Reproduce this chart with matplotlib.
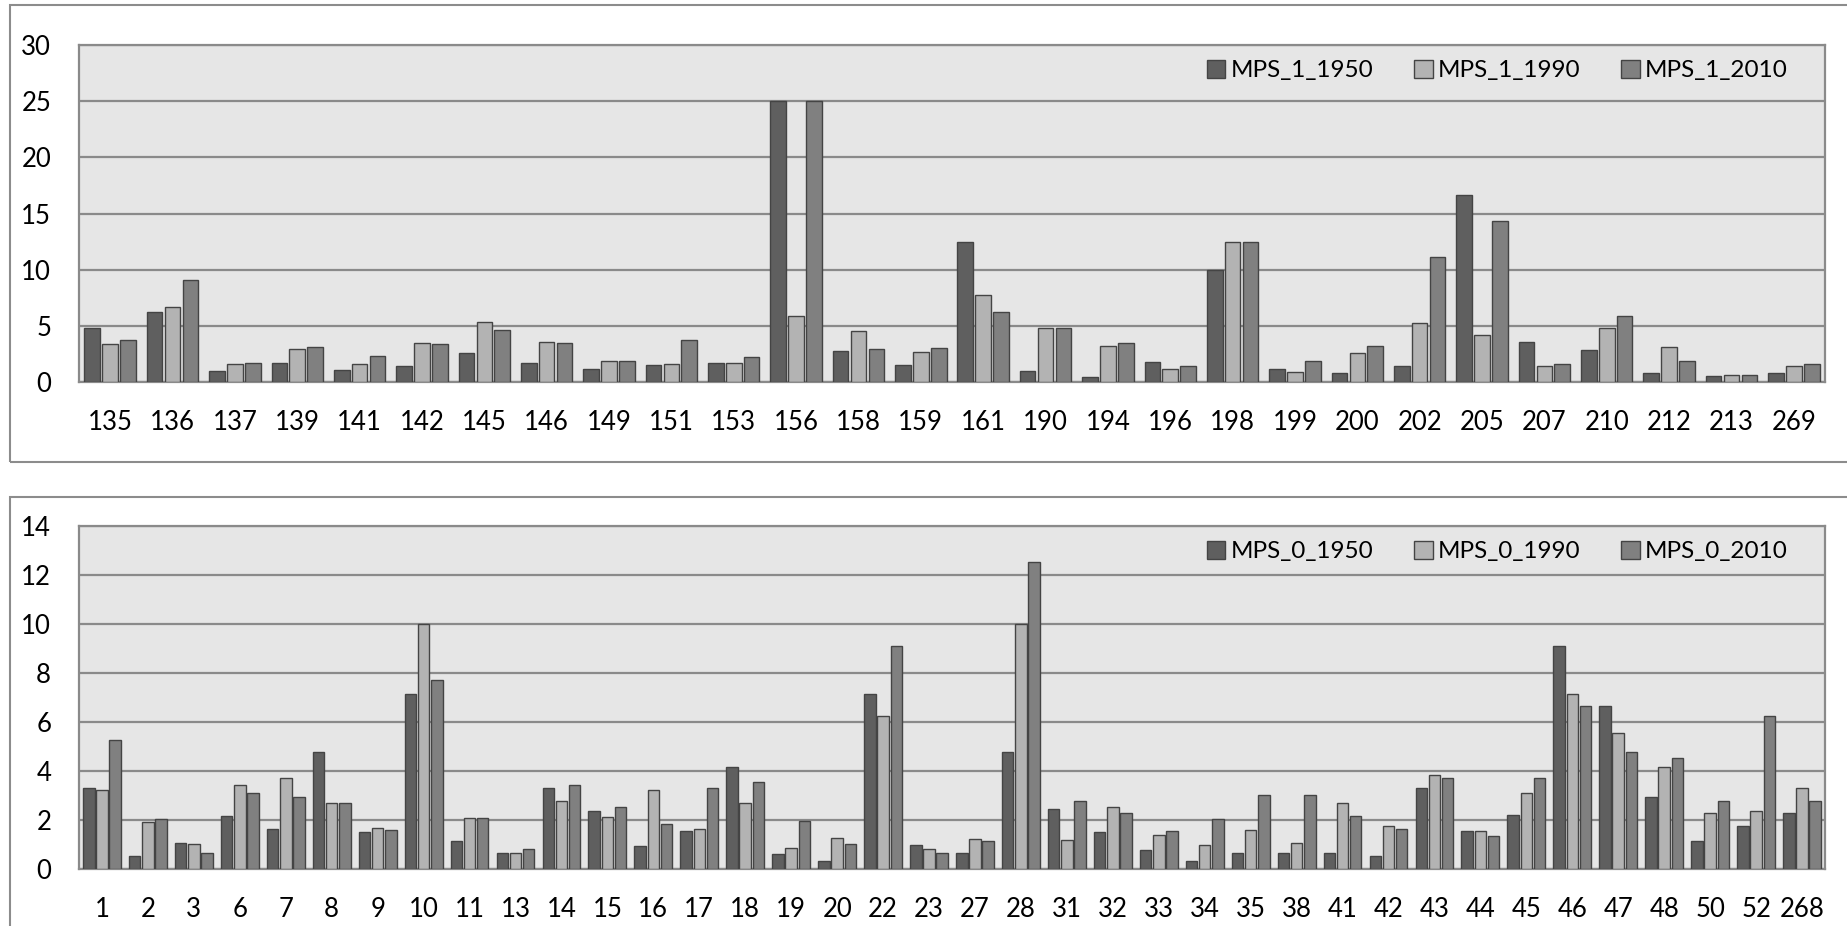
import numpy as np
import matplotlib.pyplot as plt
from matplotlib.patches import Rectangle

plt.rcParams['font.family'] = ['Lato', 'DejaVu Sans']

# top chart data (MPS_1)
cats_1 = ['135', '136', '137', '139', '141', '142', '145', '146', '149', '151',
          '153', '156', '158', '159', '161', '190', '194', '196', '198', '199',
          '200', '202', '205', '207', '210', '212', '213', '269']
mps1_1950 = [4.8, 6.27, 0.98, 1.69, 1.07, 1.39, 2.6, 1.69, 1.12, 1.5,
             1.68, 25, 2.74, 1.5, 12.48, 0.97, 0.44, 1.8, 10.0, 1.12,
             0.77, 1.39, 16.67, 3.6, 2.86, 0.77, 0.5, 0.83]
mps1_1990 = [3.34, 6.7, 1.57, 2.96, 1.63, 3.49, 5.3, 3.6, 1.86, 1.62,
             1.68, 5.9, 4.57, 2.63, 7.73, 4.78, 3.22, 1.12, 12.48, 0.91,
             2.57, 5.28, 4.19, 1.42, 4.78, 3.16, 0.65, 1.42]
mps1_2010 = [3.73, 9.08, 1.69, 3.08, 2.31, 3.34, 4.59, 3.49, 1.86, 3.72,
             2.24, 25, 2.95, 3.07, 6.25, 4.78, 3.45, 1.45, 12.48, 1.86,
             3.22, 11.12, 14.3, 1.56, 5.9, 1.83, 0.62, 1.56]

# bottom chart data (MPS_0)
cats_0 = ['1', '2', '3', '6', '7', '8', '9', '10', '11', '13', '14', '15',
          '16', '17', '18', '19', '20', '22', '23', '27', '28', '31', '32',
          '33', '34', '35', '38', '41', '42', '43', '44', '45', '46', '47',
          '48', '50', '52', '268']
mps0_1950 = [3.32, 0.53, 1.05, 2.16, 1.63, 4.76, 1.52, 7.16, 1.14, 0.64, 3.32, 2.38,
             0.95, 1.55, 4.16, 0.61, 0.33, 7.16, 0.98, 0.67, 4.76, 2.44, 1.52,
             0.78, 0.34, 0.64, 0.67, 0.64, 0.53, 3.32, 1.55, 2.22, 9.1, 6.67,
             2.93, 1.14, 1.76, 2.27]
mps0_1990 = [3.21, 1.9, 1.02, 3.44, 3.7, 2.69, 1.69, 10.0, 2.07, 0.64, 2.78, 2.12,
             3.21, 1.65, 2.71, 0.86, 1.27, 6.24, 0.83, 1.24, 10.0, 1.18, 2.54,
             1.4, 0.99, 1.59, 1.05, 2.71, 1.76, 3.85, 1.56, 3.12, 7.16, 5.55,
             4.16, 2.27, 2.38, 3.32]
mps0_2010 = [5.25, 2.03, 0.64, 3.12, 2.93, 2.69, 1.58, 7.7, 2.07, 0.8, 3.44, 2.54,
             1.85, 3.32, 3.56, 1.96, 1.02, 9.1, 0.64, 1.16, 12.52, 2.78, 2.27,
             1.56, 2.03, 3.02, 3.02, 2.16, 1.63, 3.7, 1.36, 3.7, 6.67, 4.76,
             4.54, 2.78, 6.24, 2.78]

colors = ['#5f5f5f', '#b3b3b3', '#808080']
W, H = 1847, 926

fig = plt.figure(figsize=(W / 100, H / 100), dpi=100)


def fx(px):
    return px / W


def fy(py):
    return 1 - py / H


# outer chart frames
fig.add_artist(Rectangle((fx(10), fy(462)), fx(1900), 457 / H, transform=fig.transFigure,
                         fill=False, edgecolor='#8c8c8c', lw=1.5))
fig.add_artist(Rectangle((fx(10), fy(1000)), fx(1900), 503 / H, transform=fig.transFigure,
                         fill=False, edgecolor='#8c8c8c', lw=1.5))


def draw(ax, cats, series, labels, ymax, step_y):
    x = np.arange(len(cats))
    w = 0.25
    off = 0.287
    for i, (vals, lab) in enumerate(zip(series, labels)):
        ax.bar(x + (i - 1) * off, vals, width=w, color=colors[i], edgecolor='#444444',
               linewidth=1.0, label=lab, zorder=3)
    ax.set_xlim(-0.5, len(cats) - 0.5)
    ax.set_ylim(0, ymax)
    ax.set_yticks(np.arange(0, ymax + 0.1, step_y))
    ax.set_xticks(x)
    ax.set_xticklabels(cats)
    ax.set_facecolor('#e6e6e6')
    ax.grid(axis='y', color='#8a8a8a', lw=1.6, zorder=1)
    for s in ax.spines.values():
        s.set_color('#8a8a8a')
        s.set_linewidth(1.6)
    ax.tick_params(length=0, labelsize=18.5, colors='black')
    ax.tick_params(axis='x', pad=20)
    ax.tick_params(axis='y', pad=20)
    ax.legend(loc='upper right', bbox_to_anchor=(0.984, 0.985), ncol=3, frameon=False,
              fontsize=17.5, handlelength=0.75, handleheight=0.75, handletextpad=0.2,
              columnspacing=1.7, borderaxespad=0)


ax1 = fig.add_axes([fx(79), fy(382), fx(1825) - fx(79), (382 - 45) / H])
draw(ax1, cats_1, [mps1_1950, mps1_1990, mps1_2010],
     ['MPS_1_1950', 'MPS_1_1990', 'MPS_1_2010'], 30, 5)

ax0 = fig.add_axes([fx(79), fy(869), fx(1825) - fx(79), (869 - 526) / H])
draw(ax0, cats_0, [mps0_1950, mps0_1990, mps0_2010],
     ['MPS_0_1950', 'MPS_0_1990', 'MPS_0_2010'], 14, 2)

fig.savefig('out.png', dpi=100)
